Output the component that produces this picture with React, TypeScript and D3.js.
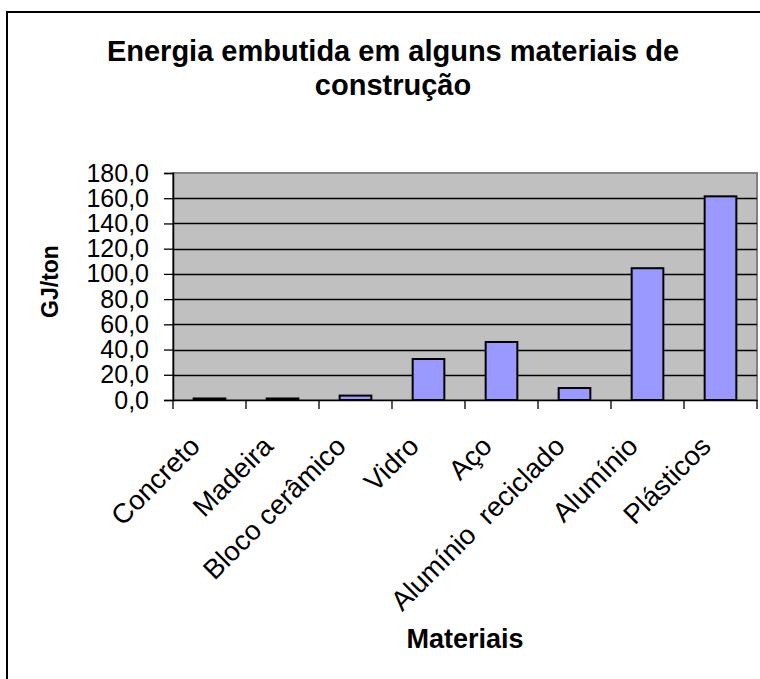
import { useRef, useEffect } from "react";
import * as d3 from "d3";

const WIDTH = 760;
const HEIGHT = 679;

const CATEGORIES = [
  "Concreto",
  "Madeira",
  "Bloco cerâmico",
  "Vidro",
  "Aço",
  "Alumínio  reciclado",
  "Alumínio",
  "Plásticos",
];
const VALUES = [1.2, 1.2, 3.5, 32.5, 46, 9.5, 104.5, 161.5];
const Y_TICKS = [0, 20, 40, 60, 80, 100, 120, 140, 160, 180];

const TITLE_LINES = ["Energia embutida em alguns materiais de", "construção"];
const Y_TITLE = "GJ/ton";
const X_TITLE = "Materiais";

// plot area (pixels)
const PLOT = { left: 173, right: 757, top: 173, bottom: 400 };
const BAR_RATIO = 0.434;
const FONT = "Arial, 'Liberation Sans', sans-serif";

export default function App() {
  const svgRef = useRef<SVGSVGElement>(null);

  useEffect(() => {
    document.body.style.margin = "0";
    document.body.style.overflow = "hidden";

    const svg = d3.select(svgRef.current);
    svg.selectAll("*").remove();

    const x = d3.scaleBand<string>()
      .domain(CATEGORIES)
      .range([PLOT.left, PLOT.right])
      .padding(0);

    const y = d3.scaleLinear()
      .domain([0, 180])
      .range([PLOT.bottom, PLOT.top]);

    // white background + outer chart border (runs off the right / bottom)
    svg.append("rect")
      .attr("width", WIDTH)
      .attr("height", HEIGHT)
      .attr("fill", "#fff");
    svg.append("rect")
      .attr("x", 7)
      .attr("y", 12)
      .attr("width", 820)
      .attr("height", 720)
      .attr("fill", "none")
      .attr("stroke", "#000")
      .attr("stroke-width", 2);

    // plot area
    svg.append("rect")
      .attr("x", PLOT.left)
      .attr("y", PLOT.top)
      .attr("width", PLOT.right - PLOT.left)
      .attr("height", PLOT.bottom - PLOT.top)
      .attr("fill", "#c0c0c0")
      .attr("stroke", "#808080")
      .attr("stroke-width", 2);

    // gridlines
    svg.append("g")
      .selectAll("line")
      .data(Y_TICKS.filter((t) => t > 0 && t < 180))
      .enter()
      .append("line")
      .attr("x1", PLOT.left)
      .attr("x2", PLOT.right)
      .attr("y1", (d) => Math.round(y(d)) + 0.5)
      .attr("y2", (d) => Math.round(y(d)) + 0.5)
      .attr("stroke", "#000")
      .attr("stroke-width", 1.3);

    // bars
    const bw = x.bandwidth() * BAR_RATIO;
    svg.append("g")
      .selectAll("rect")
      .data(CATEGORIES.map((c, i) => ({ c, v: VALUES[i] })))
      .enter()
      .append("rect")
      .attr("x", (d) => (x(d.c) ?? 0) + (x.bandwidth() - bw) / 2)
      .attr("y", (d) => y(d.v))
      .attr("width", bw)
      .attr("height", (d) => y(0) - y(d.v))
      .attr("fill", "#9999ff")
      .attr("stroke", "#000")
      .attr("stroke-width", 2);

    // y axis
    const yAxis = d3.axisLeft(y)
      .tickValues(Y_TICKS)
      .tickSize(9)
      .tickPadding(15)
      .tickFormat((d) => d3.format(".1f")(d as number).replace(".", ","));
    const gy = svg.append("g")
      .attr("transform", `translate(${PLOT.left},0)`)
      .call(yAxis);
    gy.select(".domain").attr("stroke", "#000").attr("stroke-width", 1.5);
    gy.selectAll(".tick line").attr("stroke", "#000").attr("stroke-width", 1.3);
    gy.selectAll(".tick text")
      .attr("font-family", FONT)
      .attr("font-size", 25)
      .attr("fill", "#000");

    // x axis
    const xAxis = d3.axisBottom(x).tickSize(0).tickFormat(() => "");
    const gx = svg.append("g")
      .attr("transform", `translate(0,${PLOT.bottom})`)
      .call(xAxis);
    gx.select(".domain").attr("stroke", "#000").attr("stroke-width", 1.5);
    gx.selectAll(".tick").remove();

    // x tick marks at band boundaries
    const bounds = [...CATEGORIES.map((c) => x(c) ?? 0), PLOT.right];
    svg.append("g")
      .selectAll("line")
      .data(bounds)
      .enter()
      .append("line")
      .attr("x1", (d) => d)
      .attr("x2", (d) => d)
      .attr("y1", PLOT.bottom)
      .attr("y2", PLOT.bottom + 9)
      .attr("stroke", "#000")
      .attr("stroke-width", 1.3);

    // rotated category labels
    svg.append("g")
      .selectAll("text")
      .data(CATEGORIES)
      .enter()
      .append("text")
      .attr("transform", (d) => {
        const cx = (x(d) ?? 0) + x.bandwidth() / 2 - 8;
        return `translate(${cx},448) rotate(-45)`;
      })
      .attr("text-anchor", "end")
      .attr("font-family", FONT)
      .attr("font-size", 27.5)
      .attr("fill", "#000")
      .style("white-space", "pre")
      .text((d) => d);

    // title
    svg.append("g")
      .selectAll("text")
      .data(TITLE_LINES)
      .enter()
      .append("text")
      .attr("x", 393)
      .attr("y", (_d, i) => 61 + i * 34)
      .attr("text-anchor", "middle")
      .attr("font-family", FONT)
      .attr("font-size", 29)
      .attr("font-weight", 700)
      .attr("fill", "#000")
      .text((d) => d);

    // axis titles
    svg.append("text")
      .attr("transform", `translate(58,${(PLOT.top + PLOT.bottom) / 2 - 5}) rotate(-90)`)
      .attr("text-anchor", "middle")
      .attr("font-family", FONT)
      .attr("font-size", 23)
      .attr("font-weight", 700)
      .attr("fill", "#000")
      .text(Y_TITLE);

    svg.append("text")
      .attr("x", (PLOT.left + PLOT.right) / 2)
      .attr("y", 648)
      .attr("text-anchor", "middle")
      .attr("font-family", FONT)
      .attr("font-size", 27)
      .attr("font-weight", 700)
      .attr("fill", "#000")
      .text(X_TITLE);
  }, []);

  return (
    <svg
      ref={svgRef}
      width={WIDTH}
      height={HEIGHT}
      viewBox={`0 0 ${WIDTH} ${HEIGHT}`}
      style={{ position: "absolute", left: 0, top: 0, display: "block" }}
    />
  );
}
